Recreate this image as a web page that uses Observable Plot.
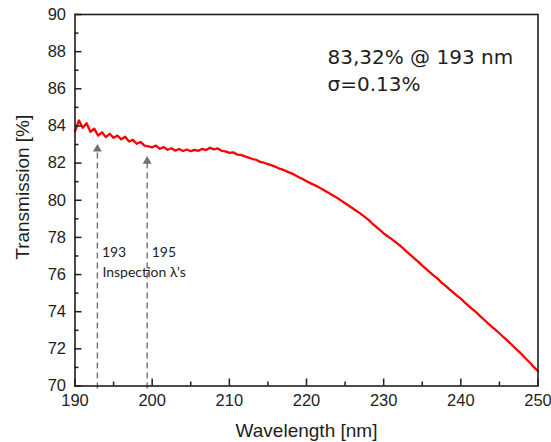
<!DOCTYPE html>
<html>
<head>
<meta charset="utf-8">
<script src="https://cdn.jsdelivr.net/npm/d3@7"></script>
<script src="https://cdn.jsdelivr.net/npm/@observablehq/plot@0.6"></script>
<style>
  html, body { margin: 0; padding: 0; background: #fff; }
  #chart svg { display: block; }
</style>
</head>
<body>
<div id="chart"></div>
<script>
// ---- data ----
const wavelengths = d3.range(121).map(i => 190 + i * 0.5); // sampling grid, 0.5 nm
const transmission = [
  83.70, 84.30, 83.90, 84.15, 83.68, 83.85, 83.48, 83.66, 83.40, 83.58,
  83.36, 83.48, 83.28, 83.42, 83.16, 83.25, 83.04, 83.14, 82.94, 82.90,
  82.85, 82.94, 82.77, 82.86, 82.72, 82.80, 82.67, 82.76, 82.65, 82.73,
  82.64, 82.71, 82.66, 82.77, 82.70, 82.83, 82.74, 82.79, 82.66, 82.63,
  82.55, 82.58, 82.46, 82.44, 82.36, 82.30, 82.22, 82.18, 82.06, 82.02,
  81.94, 81.88, 81.80, 81.70, 81.64, 81.54, 81.46, 81.36, 81.24, 81.14,
  81.02, 80.92, 80.82, 80.72, 80.60, 80.48, 80.36, 80.24, 80.12, 79.98,
  79.84, 79.70, 79.56, 79.42, 79.28, 79.12, 78.96, 78.76, 78.58, 78.40,
  78.22, 78.06, 77.92, 77.76, 77.60, 77.42, 77.22, 77.04, 76.86, 76.68,
  76.48, 76.30, 76.12, 75.94, 75.78, 75.56, 75.40, 75.22, 75.04, 74.86,
  74.70, 74.50, 74.32, 74.14, 73.96, 73.76, 73.58, 73.38, 73.20, 73.02,
  72.84, 72.64, 72.46, 72.26, 72.06, 71.86, 71.66, 71.44, 71.24, 71.00,
  70.80
];

const xMajorTicks = [190, 200, 210, 220, 230, 240, 250];
const xMinorTicks = [195, 205, 215, 225, 235, 245];
const yMajorTicks = [70, 72, 74, 76, 78, 80, 82, 84, 86, 88, 90];
const yMinorTicks = [71, 73, 75, 77, 79, 81, 83, 85, 87, 89];

// inspection markers: line position, arrow tip value, label
const inspectX = [192.9, 199.35];
const inspectTip = [82.92, 82.27];
const inspectLabels = ["193", "195"];
const inspectCaption = "Inspection λ’s";

const noteLines = ["83,32% @ 193 nm", "σ=0.13%"];

const xLabel = "Wavelength [nm]";
const yLabel = "Transmission [%]";

// ---- build ----
const curve = wavelengths.map((w, i) => ({w, t: transmission[i]}));
const inspect = inspectX.map((x, i) => ({x, tip: inspectTip[i], label: inspectLabels[i]}));

const W = 551, H = 442;
const mL = 74.5, mR = 13.5, mT = 14, mB = 56.5;
const plotW = W - mL - mR, plotH = H - mT - mB;
const ink = "#1e1e1e";

const chart = Plot.plot({
  width: W,
  height: H,
  marginLeft: mL, marginRight: mR, marginTop: mT, marginBottom: mB,
  x: {domain: [190, 250]},
  y: {domain: [70, 90]},
  style: {fontFamily: "'Liberation Sans', Arial, sans-serif", fontSize: "16px", color: ink, background: "#fff"},
  marks: [
    // dashed inspection lines and arrow heads
    Plot.ruleX(inspect, {x: "x", y1: 70, y2: "tip", stroke: "#707070", strokeWidth: 1.4, strokeDasharray: "6,4", dy: 3}),
    Plot.dot(inspect, {x: "x", y: "tip", symbol: "triangle", r: 3.3, fill: "#707070", stroke: "none", dy: 3}),
    Plot.text(inspect, {x: "x", y: 76.93, text: "label", textAnchor: "start", lineAnchor: "bottom", dx: 4.5, fontFamily: "Lato, 'Open Sans', sans-serif", fontSize: 14, fill: ink}),
    Plot.text([inspectCaption], {x: inspectX[0], y: 75.85, text: d => d, textAnchor: "start", lineAnchor: "bottom", dx: 5, fontFamily: "Lato, 'Open Sans', sans-serif", fontSize: 14, fill: ink}),
    // spectrum
    Plot.line(curve, {x: "w", y: "t", stroke: "#ff0000", strokeWidth: 2.3, curve: "linear"}),
    // ticks (inward)
    Plot.tickX(xMajorTicks, {x: d => d, insetTop: plotH - 7, stroke: ink, strokeWidth: 1.5}),
    Plot.tickX(xMinorTicks, {x: d => d, insetTop: plotH - 4, stroke: ink, strokeWidth: 1.5}),
    Plot.tickY(yMajorTicks, {y: d => d, insetRight: plotW - 7, stroke: ink, strokeWidth: 1.5}),
    Plot.tickY(yMinorTicks, {y: d => d, insetRight: plotW - 4, stroke: ink, strokeWidth: 1.5}),
    // tick labels
    Plot.axisX({ticks: xMajorTicks, tickSize: 0, tickPadding: 8, label: null, fontSize: 16.5}),
    Plot.axisY({ticks: yMajorTicks, tickSize: 0, tickPadding: 9, label: null, fontSize: 16.5}),
    // frame
    Plot.frame({stroke: ink, strokeWidth: 1.6}),
    // axis titles
    Plot.text([xLabel], {frameAnchor: "bottom", text: d => d, textAnchor: "middle", lineAnchor: "bottom", dy: 51, fontSize: 19, fill: ink}),
    Plot.text([yLabel], {frameAnchor: "left", text: d => d, textAnchor: "middle", lineAnchor: "middle", rotate: -90, dx: -52, dy: -13, fontSize: 19, fill: ink}),
    // note
    Plot.text([noteLines[0]], {frameAnchor: "top-left", text: d => d, textAnchor: "start", lineAnchor: "bottom", dx: 252.5, dy: 49, fontFamily: "'DejaVu Sans', Verdana, sans-serif", fontSize: 20, fill: ink}),
    Plot.text([noteLines[1]], {frameAnchor: "top-left", text: d => d, textAnchor: "start", lineAnchor: "bottom", dx: 252.5, dy: 76, fontFamily: "'DejaVu Sans', Verdana, sans-serif", fontSize: 20, fill: ink})
  ]
});

document.getElementById("chart").appendChild(chart);
</script>
</body>
</html>
